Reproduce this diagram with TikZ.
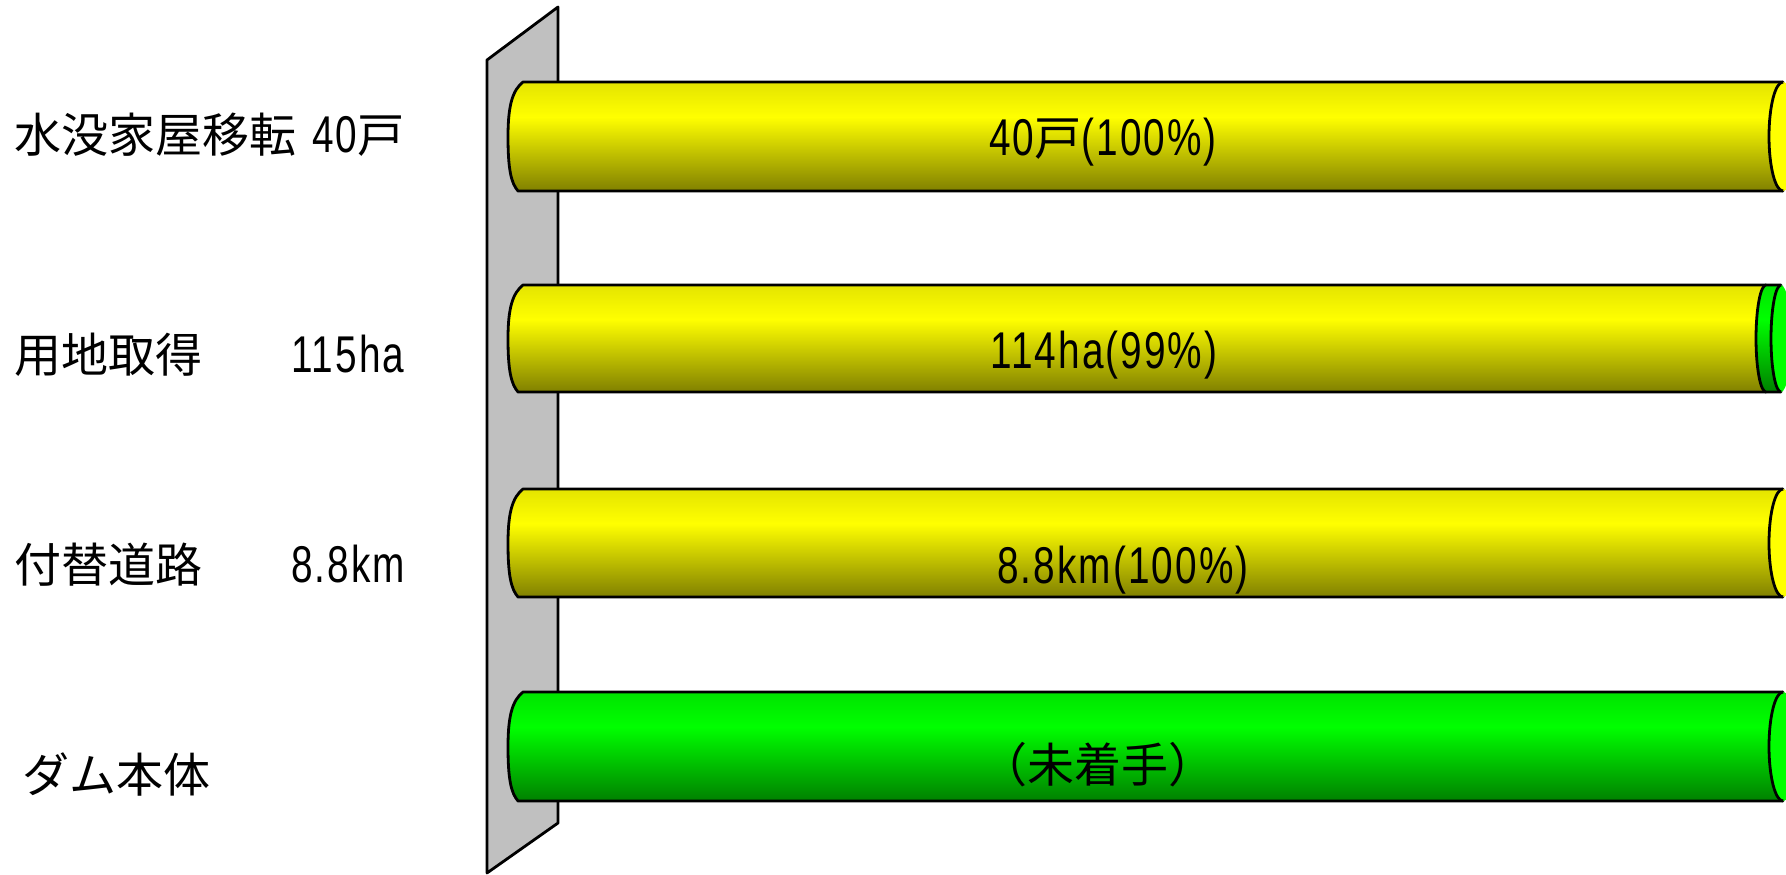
\documentclass[tikz,border=0pt]{standalone}
\usepackage{fontspec}
\setmainfont{Liberation Sans}[FakeStretch=0.75, Scale=1.1, LetterSpace=4]
\newfontfamily\jp{Noto Sans CJK JP}
\definecolor{wallgray}{RGB}{192,192,192}
\definecolor{ytop}{RGB}{228,228,0}
\definecolor{ypeak}{RGB}{255,255,0}
\definecolor{ybot}{RGB}{128,128,0}
\definecolor{gtop}{RGB}{0,228,0}
\definecolor{gpeak}{RGB}{0,255,0}
\definecolor{gbot}{RGB}{0,128,0}
\pgfdeclareverticalshading{ybar}{100bp}{color(0bp)=(ybot); color(25bp)=(ybot); color(59bp)=(ypeak); color(75bp)=(ytop); color(100bp)=(ytop)}
\pgfdeclareverticalshading{gbar}{100bp}{color(0bp)=(gbot); color(25bp)=(gbot); color(59bp)=(gpeak); color(75bp)=(gtop); color(100bp)=(gtop)}
\tikzset{
  outl/.style={draw=black, line width=2.8pt, line join=round},
  lbl/.style={anchor=base west, inner sep=0pt, font=\fontsize{47}{56}\selectfont},
  barlbl/.style={anchor=base, inner sep=0pt, font=\fontsize{47}{56}\selectfont},
}
% bar body: #1 top, #2 bottom, #3 right end x, #4 shading
\newcommand{\barbody}[4]{%
  \shade[outl, shading=#4] (523,#1) -- (#3,#1) -- (#3,#2) -- (518,#2)
    .. controls (511,#2-8) and (508,#2-22) .. (508,{(#1+#2)/2})
    .. controls (508,#1+22) and (513,#1+8) .. cycle;}
\newcommand{\barcap}[5]{% top, bottom, cx, rx, color
  \fill[#5] (#3,{(#1+#2)/2}) ellipse [x radius=#4, y radius={(#2-#1)/2}];
  \draw[outl] (#3,#2) arc[start angle=90, end angle=270, x radius=#4, y radius={(#2-#1)/2}];}
\begin{document}
\begin{tikzpicture}[x=1pt, y=-1pt]
\useasboundingbox (0,0) rectangle (1786,875);
\clip (0,0) rectangle (1786,875);
% wall
\draw[outl, fill=wallgray] (487,60) -- (558,7) -- (558,823) -- (487,873) -- cycle;
% bar 1
\barbody{82}{191}{1783}{ybar}
\barcap{82}{191}{1783}{14}{ypeak}
% bar 2
\barbody{285}{392}{1766}{ybar}
\shade[outl, shading=gbar] (1766,285) -- (1781,285) -- (1781,392) -- (1766,392)
  arc[start angle=90, end angle=270, x radius=10, y radius=53.5] -- cycle;
\barcap{285}{392}{1781}{10}{gpeak}
% bar 3
\barbody{489}{597}{1783}{ybar}
\barcap{489}{597}{1783}{14}{ypeak}
% bar 4
\barbody{692}{801}{1783}{gbar}
\barcap{692}{801}{1783}{14}{gpeak}
% left labels
\node[lbl] (l1) at (14,152) {{\jp 水没家屋移転}\hspace{16pt}40{\jp 戸}};
\node[lbl] (l2) at (14,372) {\jp 用地取得};
\node[lbl] (l2v) at (291,372) {115ha};
\node[lbl] (l3) at (14,582) {\jp 付替道路};
\node[lbl] (l3v) at (291,582) {8.8km};
\node[lbl] (l4) at (22,792) {\jp ダム本体};
% bar labels
\node[barlbl] (b1) at (1103,155) {40{\jp 戸}(100\%)};
\node[barlbl] (b2) at (1104,368) {114ha(99\%)};
\node[barlbl] (b3) at (1123,583) {8.8km(100\%)};
\node[barlbl] (b4) at (1098,782) {\jp （未着手）};
\end{tikzpicture}
\end{document}
